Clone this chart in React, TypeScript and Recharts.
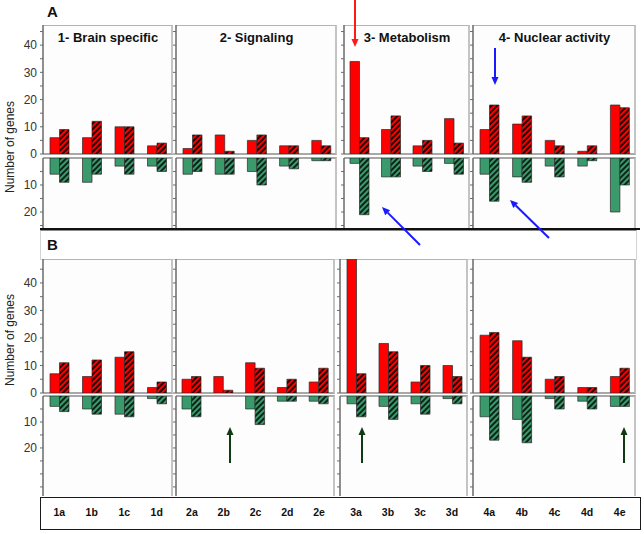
import { BarChart, Bar, XAxis, YAxis } from 'recharts';

const FONT = '"Liberation Sans", Arial, Helvetica, sans-serif';

const categories = ['1a', '1b', '1c', '1d', '2a', '2b', '2c', '2d', '2e', '3a', '3b', '3c', '3d', '4a', '4b', '4c', '4d', '4e'];
const groupTitles = ['1- Brain specific', '2- Signaling', '3- Metabolism', '4- Nuclear activity'];
const groupSizes = [4, 5, 4, 5];

// panel A
const aUpSolid = [6, 6, 10, 3, 2, 7, 5, 3, 5, 34, 9, 3, 13, 9, 11, 5, 1, 18];
const aUpHatched = [9, 12, 10, 4, 7, 1, 7, 3, 3, 6, 14, 5, 4, 18, 14, 3, 3, 17];
const aDownSolid = [6, 9, 3, 3, 6, 6, 5, 3, 1, 2, 7, 3, 2, 6, 7, 3, 3, 20];
const aDownHatched = [9, 6, 6, 5, 5, 6, 10, 4, 1, 21, 7, 5, 6, 16, 9, 7, 1, 10];

// panel B
const bUpSolid = [7, 6, 13, 2, 5, 6, 11, 2, 4, 50, 18, 4, 10, 21, 19, 5, 2, 6];
const bUpHatched = [11, 12, 15, 4, 6, 1, 9, 5, 9, 7, 15, 10, 6, 22, 13, 6, 2, 9];
const bDownSolid = [4, 5, 7, 1, 5, 0, 5, 2, 2, 3, 4, 3, 1, 8, 9, 1, 2, 4];
const bDownHatched = [6, 7, 8, 3, 8, 0, 11, 2, 3, 8, 9, 7, 3, 17, 18, 5, 5, 4];

const RED = '#ff0000';
const GREEN = '#3a9a6c';

type Row = {
  key: string;
  upTop: number;
  zero: number;
  lowTop: number;
  lowBottom: number;
  upMax: number;
  lowMax: number;
  xs: number[][];
};

const rowA: Row = { key: 'a', upTop: 25, zero: 154, lowTop: 158, lowBottom: 229, upMax: 47.4, lowMax: 26.3, xs: [[43, 173], [176, 337], [344, 470], [473, 636]] };
const rowB: Row = { key: 'b', upTop: 259, zero: 393, lowTop: 396, lowBottom: 496, upMax: 48.7, lowMax: 38.5, xs: [[43, 173], [176, 335], [340, 468], [473, 636]] };

function buildRows(up1: number[], up2: number[], dn1: number[], dn2: number[]) {
  return categories.map((cat, i) => ({ cat, s: up1[i], h: up2[i], ds: dn1[i], dh: dn2[i] }));
}

const dataA = buildRows(aUpSolid, aUpHatched, aDownSolid, aDownHatched);
const dataB = buildRows(bUpSolid, bUpHatched, bDownSolid, bDownHatched);

function sliceGroup(rows: any[], gi: number) {
  const start = groupSizes.slice(0, gi).reduce((a, b) => a + b, 0);
  return rows.slice(start, start + groupSizes[gi]);
}

interface HalfProps {
  id: string;
  data: any[];
  left: number;
  top: number;
  width: number;
  height: number;
  first: boolean;
  lower: boolean;
  max: number;
  showX: boolean;
}

function Half({ id, data, left, top, width, height, first, lower, max, showX }: HalfProps) {
  const axisW = first ? 40 : 4;
  const xH = showX ? 34 : 0;
  const ticks: number[] = [];
  for (let v = lower ? 5 : 0; v < max; v += 5) ticks.push(v);
  const fmt = (v: number) => {
    if (!first) return '';
    if (v % 10 !== 0) return '';
    if (lower && v >= 30) return '';
    return String(v);
  };
  const base = lower ? GREEN : RED;
  const stripe = lower ? '#0c2418' : '#240000';
  return (
    <div style={{ position: 'absolute', left: left - axisW, top, width: width + axisW, height: height + xH }}>
      <BarChart
        width={width + axisW}
        height={height + xH}
        data={data}
        margin={{ top: 0, right: 0, bottom: 0, left: 0 }}
        barGap={0}
        barSize={9.5}
      >
        <defs>
          <pattern id={id} width="4" height="4" patternUnits="userSpaceOnUse" patternTransform="rotate(45)">
            <rect width="4" height="4" fill={base} />
            <rect width="2" height="4" fill={stripe} />
          </pattern>
        </defs>
        <XAxis
          dataKey="cat"
          hide={!showX}
          height={xH}
          axisLine={false}
          tickLine={false}
          tickSize={0}
          tickMargin={13}
          interval={0}
          tick={{ fontSize: 10.5, fontWeight: 'bold', fill: '#111', fontFamily: FONT }}
        />
        <YAxis
          type="number"
          domain={[0, max]}
          allowDataOverflow
          reversed={lower}
          ticks={ticks}
          interval={0}
          width={axisW}
          tickSize={3}
          tickMargin={3}
          axisLine={{ stroke: '#6a6a6a', strokeWidth: 1.5 }}
          tickLine={{ stroke: '#6a6a6a' }}
          tickFormatter={fmt}
          tick={{ fontSize: 12, fill: '#333', fontFamily: FONT }}
        />
        <Bar dataKey={lower ? 'ds' : 's'} fill={base} stroke="#2a2a2a" strokeWidth={0.7} isAnimationActive={false} />
        <Bar dataKey={lower ? 'dh' : 'h'} fill={`url(#${id})`} stroke="#2a2a2a" strokeWidth={0.7} isAnimationActive={false} />
      </BarChart>
    </div>
  );
}

function PanelRow({ row, rows, showX }: { row: Row; rows: any[]; showX: boolean }) {
  return (
    <>
      {row.xs.map(([x0, x1], gi) => (
        <div key={`f${gi}`}>
          <div
            style={{
              position: 'absolute', left: x0, top: row.upTop, width: x1 - x0, height: row.zero - row.upTop + 1,
              boxSizing: 'border-box', borderTop: '1.5px solid #b4b4b4', borderRight: '2.5px solid #c4c4c4',
              borderBottom: '2px solid #a8a8a8', background: '#fdfdfd',
            }}
          />
          <div
            style={{
              position: 'absolute', left: x0, top: row.lowTop - 1, width: x1 - x0, height: row.lowBottom - row.lowTop + 1,
              boxSizing: 'border-box', borderTop: '2px solid #a8a8a8', borderRight: '2.5px solid #c4c4c4', background: '#fdfdfd',
            }}
          />
        </div>
      ))}
      {row.xs.map(([x0, x1], gi) => (
        <div key={`c${gi}`}>
          <Half
            id={`hu-${row.key}-${gi}`}
            data={sliceGroup(rows, gi)}
            left={x0}
            top={row.upTop}
            width={x1 - x0}
            height={row.zero - row.upTop}
            first={gi === 0}
            lower={false}
            max={row.upMax}
            showX={false}
          />
          <Half
            id={`hl-${row.key}-${gi}`}
            data={sliceGroup(rows, gi)}
            left={x0}
            top={row.lowTop}
            width={x1 - x0}
            height={row.lowBottom - row.lowTop}
            first={gi === 0}
            lower
            max={row.lowMax}
            showX={showX}
          />
        </div>
      ))}
    </>
  );
}

function Arrow({ x1, y1, x2, y2, color }: { x1: number; y1: number; x2: number; y2: number; color: string }) {
  const dx = x2 - x1;
  const dy = y2 - y1;
  const len = Math.sqrt(dx * dx + dy * dy);
  const ux = dx / len;
  const uy = dy / len;
  const hl = 8;
  const hw = 3.5;
  const bx = x2 - ux * hl;
  const by = y2 - uy * hl;
  const pts = `${x2},${y2} ${bx - uy * hw},${by + ux * hw} ${bx + uy * hw},${by - ux * hw}`;
  return (
    <g>
      <line x1={x1} y1={y1} x2={bx} y2={by} stroke={color} strokeWidth={2} />
      <polygon points={pts} fill={color} />
    </g>
  );
}

export default function App() {
  return (
    <div style={{ position: 'absolute', left: 0, top: 0, width: 644, height: 534, background: '#fff', fontFamily: FONT, overflow: 'hidden' }}>
      <style>{'.recharts-surface { overflow: visible; }'}</style>
      {/* B header strip */}
      <div style={{ position: 'absolute', left: 40, top: 230, width: 597, height: 30, boxSizing: 'border-box', border: '1px solid #d4d4d4', borderTop: '1.5px solid #8a8a8a' }} />
      {/* label box under B */}
      <div style={{ position: 'absolute', left: 40, top: 497, width: 601, height: 33, boxSizing: 'border-box', border: '1.5px solid #1a1a1a' }} />

      <PanelRow row={rowA} rows={dataA} showX={false} />
      <PanelRow row={rowB} rows={dataB} showX />

      {/* thick line under A */}
      <div style={{ position: 'absolute', left: 40, top: 228, width: 600, height: 2, background: '#111' }} />

      {rowA.xs.map(([x0, x1], gi) => (
        <div
          key={gi}
          style={{ position: 'absolute', left: x0, width: x1 - x0, top: 30, textAlign: 'center', fontSize: 13, fontWeight: 'bold', color: '#111', whiteSpace: 'nowrap' }}
        >
          {groupTitles[gi]}
        </div>
      ))}

      <div style={{ position: 'absolute', left: 47, top: 3, fontSize: 15, fontWeight: 'bold', color: '#111' }}>A</div>
      <div style={{ position: 'absolute', left: 47, top: 236, fontSize: 15, fontWeight: 'bold', color: '#111' }}>B</div>

      <div style={{ position: 'absolute', left: 10, top: 147, transform: 'translate(-50%, -50%) rotate(-90deg)', fontSize: 12, color: '#222', whiteSpace: 'nowrap' }}>
        Number of genes
      </div>
      <div style={{ position: 'absolute', left: 10, top: 340, transform: 'translate(-50%, -50%) rotate(-90deg)', fontSize: 12, color: '#222', whiteSpace: 'nowrap' }}>
        Number of genes
      </div>

      <svg width={644} height={534} style={{ position: 'absolute', left: 0, top: 0, pointerEvents: 'none' }}>
        <Arrow x1={355} y1={0} x2={355} y2={47} color="#ff1a1a" />
        <Arrow x1={495} y1={48} x2={495} y2={85} color="#1a1aff" />
        <Arrow x1={420} y1={245} x2={382} y2={207} color="#1a1aff" />
        <Arrow x1={549} y1={238} x2={510} y2={200} color="#1a1aff" />
        <Arrow x1={230} y1={463} x2={230} y2={427} color="#0f3a14" />
        <Arrow x1={362} y1={463} x2={362} y2={427} color="#0f3a14" />
        <Arrow x1={624} y1={463} x2={624} y2={427} color="#0f3a14" />
      </svg>
    </div>
  );
}
